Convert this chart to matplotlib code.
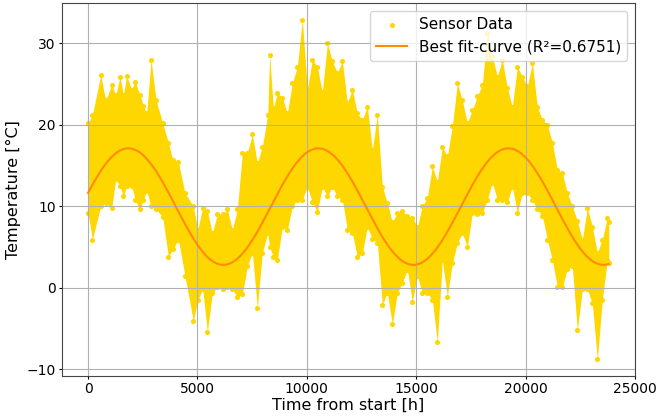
import numpy as np
import matplotlib.pyplot as plt

# hourly sensor record, summarised as upper / lower envelope per time step
hours = [0, 199, 579, 807, 1082, 1265, 1462, 1615, 1767, 1995, 2148, 2377, 2529, 2681, 2879,
         3108, 3413, 3672, 3871, 4130, 4433, 4814, 5012, 5241, 5453, 5681, 5910, 6155, 6367,
         6596, 6824, 7052, 7282, 7510, 7738, 7967, 8212, 8300, 8471, 8653, 8882, 9110, 9338,
         9567, 9795, 10023, 10253, 10481, 10709, 10938, 11166, 11395, 11624, 11852, 12080,
         12309, 12537, 12765, 12994, 13223, 13451, 13680, 13909, 14137, 14365, 14594, 14822,
         15050, 15279, 15507, 15736, 15965, 16193, 16421, 16650, 16879, 17107, 17336, 17565,
         17793, 18021, 18251, 18479, 18707, 18936, 19164, 19392, 19622, 19850, 20078, 20307,
         20535, 20763, 20993, 21221, 21449, 21678, 21906, 22135, 22363, 22592, 22820, 23049,
         23278, 23506, 23734, 23800]
temp_high = [20.2, 21.2, 26.1, 23.0, 24.9, 23.6, 25.9, 23.6, 26.0, 24.3, 25.3, 23.6, 22.3, 21.4, 28.0,
             23.0, 20.2, 17.8, 15.7, 15.4, 11.6, 10.0, 7.1, 9.8, 9.4, 6.7, 9.0, 9.0, 9.6,
             7.1, 9.6, 16.5, 16.5, 18.8, 15.3, 17.3, 21.2, 28.6, 22.0, 23.9, 23.3, 21.4, 25.1,
             27.1, 32.9, 24.3, 28.0, 27.1, 24.0, 30.0, 27.8, 26.4, 27.8, 22.7, 24.3,
             21.4, 20.6, 22.2, 16.9, 21.2, 12.4, 10.4, 8.0, 9.2, 9.4, 8.8, 8.6,
             7.5, 10.0, 11.0, 14.9, 13.0, 17.3, 16.1, 19.8, 25.1, 23.0, 20.2, 21.8,
             23.5, 24.9, 31.3, 28.4, 25.9, 28.0, 24.5, 22.2, 27.1, 25.9, 24.7, 27.6,
             22.2, 20.6, 20.0, 17.8, 14.5, 14.1, 11.6, 10.0, 8.2, 5.9, 9.8, 7.5,
             4.3, 5.9, 8.6, 8.0]
temp_low = [9.2, 5.9, 10.0, 10.4, 9.8, 13.3, 12.5, 11.2, 12.5, 12.5, 10.8, 9.6, 10.8, 11.9, 10.0,
            9.6, 8.7, 3.8, 4.7, 5.9, 1.4, -4.1, -1.5, -0.2, -5.4, -0.7, 0.1, -0.2, 0.1,
            -0.2, -1.1, -0.8, 2.6, 4.3, -2.5, 4.3, 6.7, 5.0, 3.8, 3.4, 7.5, 7.1, 10.0,
            10.8, 10.8, 12.4, 10.5, 9.3, 12.4, 11.2, 12.4, 11.2, 10.8, 7.1, 6.7,
            3.8, 4.2, 7.5, 6.0, 5.5, -2.1, -0.6, -4.5, -0.6, 0.6, 2.2, -1.7,
            1.4, -0.6, -0.6, -1.5, -6.7, 3.4, -1.1, 3.0, 5.5, 6.7, 5.0, 9.2,
            9.0, 9.2, 10.8, 12.9, 10.8, 10.8, 10.5, 12.4, 9.2, 11.6, 11.6, 10.8,
            9.6, 8.8, 5.9, 3.4, 0.1, 0.1, 2.3, 2.6, -5.2, -0.2, -0.2, -1.9,
            -8.8, -1.5, 3.4, 3.0]

# sinusoidal fit parameters
fit_offset = 9.95
fit_amplitude = 7.15
fit_period = 8685.0
fit_peak = 1842.0
r_squared = 0.6751

t = np.array(hours, dtype=float)
hi = np.array(temp_high)
lo = np.array(temp_low)

t_fit = np.linspace(0, hours[-1], 500)
y_fit = fit_offset + fit_amplitude * np.cos(2 * np.pi * (t_fit - fit_peak) / fit_period)

fig = plt.figure(figsize=(6.56, 4.2), dpi=100)
ax = fig.add_axes([0.0945, 0.1055, 0.8735, 0.8867])

ax.fill_between(t, lo, hi, color='gold', lw=0)
ax.scatter(np.concatenate([t, t]), np.concatenate([hi, lo]), s=7, color='gold',
           label='Sensor Data')
ax.plot(t_fit, y_fit, color='darkorange', lw=1.5,
        label='Best fit-curve (R²={:.4f})'.format(r_squared))

ax.set_xlim(-1190, 25000)
ax.set_ylim(-10.8, 34.9)
ax.set_xticks(range(0, 25001, 5000))
ax.set_yticks(range(-10, 31, 10))
ax.tick_params(labelsize=10, length=2.5, pad=2)
ax.grid(True)
for s in ax.spines.values():
    s.set_color('#444444')
ax.set_xlabel('Time from start [h]', fontsize=11.5)
ax.set_ylabel('Temperature [°C]', fontsize=11.5)
ax.xaxis.set_label_coords(0.5, -0.06)
ax.yaxis.set_label_coords(-0.071, 0.5)
ax.legend(loc='upper right', fontsize=11, scatterpoints=1)

fig.savefig('out.png', dpi=100)
